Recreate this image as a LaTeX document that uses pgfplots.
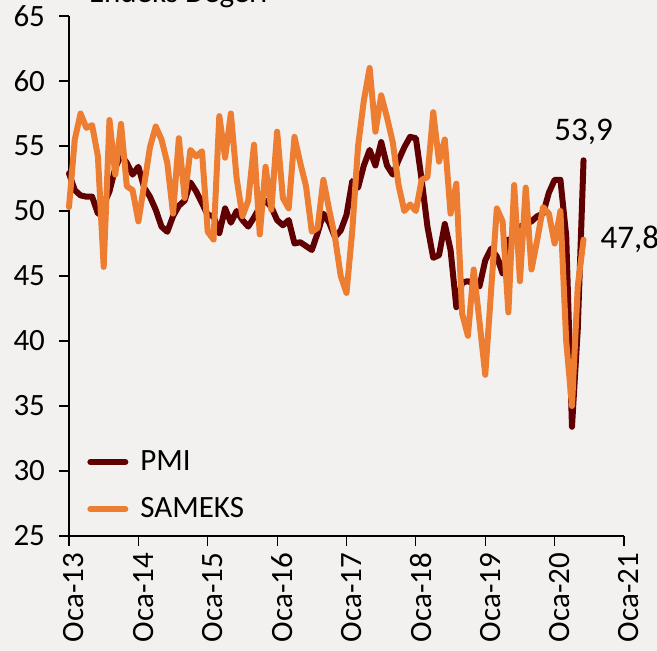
\documentclass[border=0pt]{standalone}
\usepackage{fontspec}
\setmainfont{Carlito}
\usepackage{pgfplots}
\usepackage{pgfplotstable}
\pgfplotsset{compat=1.18}
\definecolor{pmi}{RGB}{96,0,0}
\definecolor{sam}{RGB}{237,125,49}
\definecolor{bg}{RGB}{242,241,240}
\pgfplotstableread{
m pmi sam
0 52.9 50.3
1 51.6 55.5
2 51.2 57.5
3 51.1 56.4
4 51.1 56.6
5 49.8 54.2
6 50.5 45.7
7 51.5 57.0
8 53.3 52.8
9 54.3 56.7
10 53.7 51.9
11 52.8 51.6
12 53.4 49.2
13 51.8 52.0
14 51.1 54.9
15 50.1 56.5
16 48.8 55.5
17 48.4 53.7
18 49.6 49.8
19 50.4 55.6
20 50.8 51.0
21 52.2 54.7
22 51.5 54.2
23 50.6 54.6
24 49.7 48.4
25 49.6 47.8
26 48.3 57.3
27 50.2 54.1
28 49.1 57.5
29 50.0 52.5
30 49.3 49.6
31 48.8 50.8
32 49.5 55.1
33 50.3 48.2
34 50.8 53.4
35 50.3 50.1
36 49.3 56.1
37 48.9 51.0
38 49.3 50.2
39 47.5 55.7
40 47.6 53.7
41 47.3 51.9
42 47.0 48.4
43 48.3 48.7
44 49.8 52.4
45 49.1 50.1
46 48.0 48.0
47 48.5 45.0
48 49.7 43.7
49 52.3 48.5
50 51.8 55.0
51 53.5 58.5
52 54.7 61.0
53 53.5 56.1
54 55.3 58.9
55 53.5 57.2
56 52.8 55.3
57 53.9 52.0
58 54.9 50.0
59 55.7 50.5
60 55.6 50.0
61 52.4 52.4
62 48.8 52.6
63 46.4 57.6
64 46.6 53.8
65 49.0 55.5
66 47.0 49.8
67 42.6 52.1
68 44.5 42.1
69 44.6 40.4
70 44.4 45.5
71 44.2 41.5
72 46.2 37.4
73 47.1 43.8
74 46.5 50.2
75 45.2 49.2
76 47.8 42.2
77 47.8 52.0
78 48.8 44.6
79 49.0 51.8
80 49.2 45.5
81 49.6 47.8
82 49.8 50.3
83 51.4 49.8
84 52.4 47.5
85 52.4 50.0
86 48.1 40.0
87 33.4 35.0
88 40.9 44.2
89 53.9 47.8
}\datatable
\begin{document}
\begin{tikzpicture}
\fill[bg] (-34.5pt,-57.5pt) rectangle (294pt,268pt);
\useasboundingbox (-34.5pt,-57.5pt) rectangle (294pt,268pt);
\begin{axis}[
  at={(0,0)}, anchor=south west,
  scale only axis, width=277.5pt, height=260pt,
  xmin=0, xmax=96, ymin=25, ymax=65,
  axis x line*=bottom, axis y line*=left,
  axis line style={-, line width=0.6pt, black},
  tick align=outside, major tick length=5pt,
  tick style={black, line width=0.6pt},
  xtick={0,12,...,96},
  xticklabels={Oca-13,Oca-14,Oca-15,Oca-16,Oca-17,Oca-18,Oca-19,Oca-20,Oca-21},
  ytick={25,30,...,65},
  /pgf/number format/assume math mode=true,
  tick label style={font=\fontsize{15.5}{18}\selectfont, black},
  xticklabel style={rotate=90, anchor=east, yshift=-2.5pt},
  yticklabel style={xshift=-3.5pt},
  legend style={at={(0.0324,0.021)}, anchor=south west, draw=none, fill=none,
    font=\fontsize{15.5}{18}\selectfont, row sep=8pt, inner sep=0pt,
    nodes={inner xsep=6pt}},
  legend cell align=left,
  legend image code/.code={\draw[#1, line width=3pt, line cap=round] (0pt,0pt) -- (17.5pt,0pt);},
  clip=false,
]
\addplot[pmi, line width=3pt, line join=round, line cap=round] table[x=m, y=pmi] {\datatable};
\addlegendentry{PMI}
\addplot[sam, line width=3pt, line join=round, line cap=round] table[x=m, y=sam] {\datatable};
\addlegendentry{SAMEKS}
\node[anchor=base, font=\fontsize{16.5}{19}\selectfont] at (axis cs:89,53.9) [yshift=10pt] {53,9};
\node[anchor=base west, font=\fontsize{16.5}{19}\selectfont] at (axis cs:89,47.8) [xshift=5pt, yshift=-4.7pt] {47,8};
\end{axis}
\node[anchor=base west, font=\fontsize{15.5}{18}\selectfont] at (6.5pt,266.5pt) {Endeks Değeri};
\end{tikzpicture}
\end{document}
